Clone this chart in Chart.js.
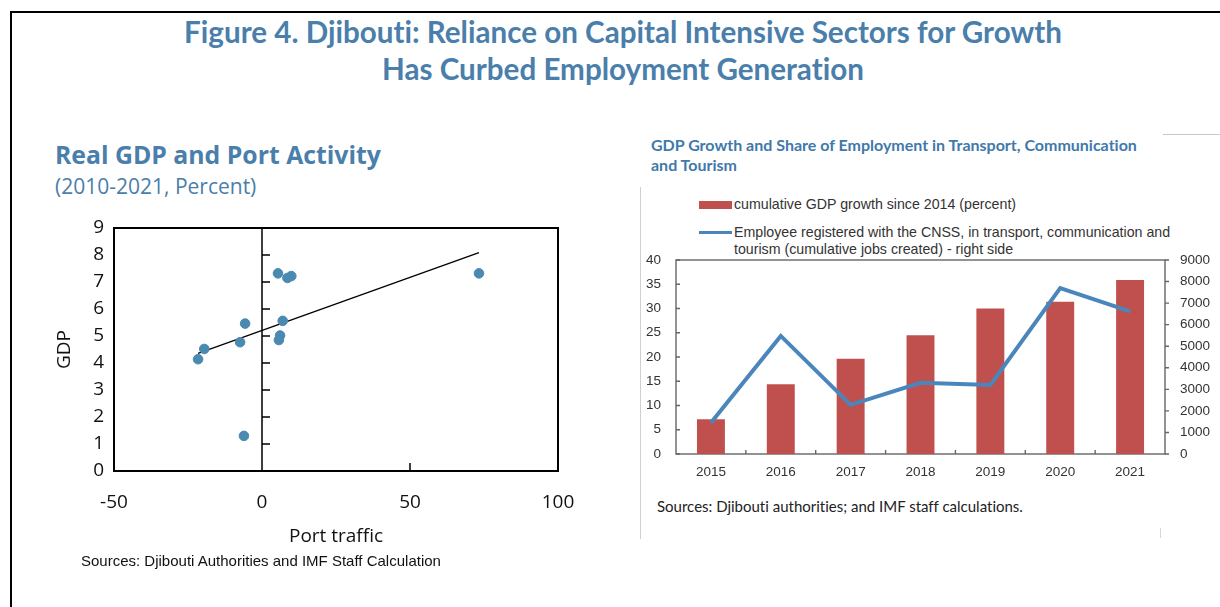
<!DOCTYPE html>
<html>
<head>
<meta charset="utf-8">
<script src="https://cdn.jsdelivr.net/npm/chart.js@4.4.1/dist/chart.umd.min.js"></script>
<style>
    html, body { margin: 0; padding: 0; background: #fff; }
    body { width: 1220px; height: 607px; position: relative; overflow: hidden; font-family: "Open Sans", sans-serif; font-variant-ligatures: none; }
    .frame { position: absolute; left: 10px; top: 11px; width: 1300px; height: 700px; border-left: 2px solid #000; border-top: 2px solid #000; }
    .main-title { position: absolute; left: 0; width: 1246px; top: 13px; text-align: center; font-family: Lato, sans-serif; font-weight: 700; font-size: 29.6px; line-height: 37px; color: #4a7eab; }
    .sub-title { position: absolute; left: 55px; top: 137px; font-weight: 700; font-size: 24.8px; color: #4a7eab; }
    .sub-note { position: absolute; left: 55px; top: 172px; font-size: 21px; color: #4a7eab; }
    .src-left { position: absolute; left: 81px; top: 552px; font-family: "Liberation Sans", Arial, sans-serif; font-size: 15px; color: #111; }
    .r-title { position: absolute; left: 651px; top: 135px; font-family: Lato, sans-serif; font-weight: 700; font-size: 16px; line-height: 20px; color: #4079aa; }
    .r-frame-l { position: absolute; left: 640px; top: 187px; width: 1px; height: 352px; background: #d0d0d0; }
    .r-frame-t { position: absolute; left: 1163px; top: 134px; width: 60px; height: 1px; background: #c8c8c8; }
    .r-frame-b { position: absolute; left: 1160px; top: 528px; width: 1px; height: 10px; background: #d8d8d8; }
    .legend { position: absolute; left: 699px; top: 196px; font-family: "Liberation Sans", Arial, sans-serif; font-size: 14.2px; color: #333; line-height: 17px; }
    .legend .row { position: relative; padding-left: 35px; }
    .legend .sw-bar { position: absolute; left: 0; top: 5px; width: 33px; height: 8px; background: #c0504d; }
    .legend .sw-line { position: absolute; left: 0; top: 7px; width: 33px; height: 3px; background: #4a86bb; }
    .src-right { position: absolute; left: 657px; top: 497px; font-family: Lato, sans-serif; font-size: 15px; color: #222; }
    #scatter-wrap { position: absolute; left: 40px; top: 215px; width: 538px; height: 340px; }
    #combo-wrap { position: absolute; left: 624px; top: 255px; width: 596px; height: 230px; }
</style>
</head>
<body>
<div class="frame"></div>
<div class="main-title">Figure 4. Djibouti: Reliance on Capital Intensive Sectors for Growth<br>Has Curbed Employment Generation</div>

<div class="sub-title">Real GDP and Port Activity</div>
<div class="sub-note">(2010-2021, Percent)</div>
<div id="scatter-wrap"><canvas id="scatter-chart"></canvas></div>
<div class="src-left">Sources: Djibouti Authorities and IMF Staff Calculation</div>

<div class="r-frame-l"></div>
<div class="r-frame-t"></div>
<div class="r-frame-b"></div>
<div class="r-title">GDP Growth and Share of Employment in Transport, Communication<br>and Tourism</div>
<div class="legend">
    <div class="row"><span class="sw-bar"></span>cumulative GDP growth since 2014 (percent)</div>
    <div class="row" style="margin-top:11px"><span class="sw-line"></span>Employee registered with the CNSS, in transport, communication and<br>tourism (cumulative jobs created) - right side</div>
</div>
<div id="combo-wrap"><canvas id="combo-chart"></canvas></div>
<div class="src-right">Sources: Djibouti authorities; and IMF staff calculations.</div>

<script>
// 왼쪽: 항만 물동량 vs 실질 GDP (2010-2021)
const portTraffic = [-21.6, -19.5, -7.4, -5.7, -6.1, 5.4, 8.6, 9.9, 7.0, 6.1, 5.7, 73.3];
const gdpGrowth = [4.14, 4.52, 4.77, 5.46, 1.30, 7.32, 7.15, 7.22, 5.56, 5.02, 4.85, 7.32];
const trendX = [-21.6, 73.3];
const trendY = [4.36, 8.09];
const scatterXTicks = [-50, 0, 50, 100];

// 오른쪽: GDP 누적 성장률 + CNSS 등록 고용
const years = ['2015', '2016', '2017', '2018', '2019', '2020', '2021'];
const cumGdp = [7.15, 14.4, 19.65, 24.5, 30.0, 31.4, 35.9];
const cnssJobs = [1450, 5480, 2280, 3300, 3200, 7700, 6620];

Chart.defaults.animation = false;
Chart.defaults.plugins.legend.display = false;
Chart.defaults.plugins.tooltip.enabled = false;

// 축 라벨이 차트 영역을 밀어내지 않도록
const noPad = s => { s.paddingTop = 0; s.paddingBottom = 0; s.paddingLeft = 0; s.paddingRight = 0; };

// 산점도 박스, 0 기준선, 작은 눈금
const scatterFrame = {
    id: 'scatterFrame',
    beforeDatasetsDraw(chart) {
        const { ctx, chartArea: a, scales: { x, y } } = chart;
        ctx.save();
        ctx.strokeStyle = '#000';
        ctx.lineWidth = 2;
        ctx.strokeRect(a.left, a.top, a.right - a.left, a.bottom - a.top);
        const x0 = x.getPixelForValue(0);
        ctx.lineWidth = 1.5;
        ctx.beginPath();
        ctx.moveTo(x0, a.top);
        ctx.lineTo(x0, a.bottom);
        y.ticks.forEach(t => {
            if (t.value <= y.min || t.value >= y.max) return;
            const py = y.getPixelForValue(t.value);
            ctx.moveTo(x0, py);
            ctx.lineTo(x0 + 8, py);
        });
        x.ticks.forEach(t => {
            if (t.value <= x.min || t.value >= x.max || t.value === 0) return;
            const px = x.getPixelForValue(t.value);
            ctx.moveTo(px, a.bottom);
            ctx.lineTo(px, a.bottom - 8);
        });
        ctx.stroke();
        ctx.restore();
    }
};

new Chart(document.getElementById('scatter-chart'), {
    type: 'scatter',
    data: {
        datasets: [
            {
                label: 'GDP',
                data: portTraffic.map((v, i) => ({ x: v, y: gdpGrowth[i] })),
                backgroundColor: '#4a89b0',
                borderColor: '#4a89b0',
                pointRadius: 4.8,
                order: 0
            },
            {
                type: 'line',
                label: 'trend',
                data: trendX.map((v, i) => ({ x: v, y: trendY[i] })),
                borderColor: '#000',
                borderWidth: 1.3,
                pointRadius: 0,
                fill: false,
                order: 1
            }
        ]
    },
    plugins: [scatterFrame],
    options: {
        responsive: true,
        maintainAspectRatio: false,
        layout: { padding: { top: 13, right: 20, left: 0, bottom: 0 } },
        scales: {
            x: {
                type: 'linear',
                min: -50,
                max: 100,
                afterBuildTicks: s => { s.ticks = scatterXTicks.map(v => ({ value: v })); },
                afterFit: s => { s.height = 84; noPad(s); },
                grid: { display: false, drawTicks: false },
                border: { display: false },
                ticks: { padding: 20, color: '#111', font: { family: 'Open Sans', size: 19 } },
                title: { display: true, text: 'Port traffic', color: '#111', padding: { top: 0, bottom: 7 }, font: { family: 'Open Sans', size: 19 } }
            },
            y: {
                min: 0,
                max: 9,
                afterFit: s => { s.width = 74; noPad(s); },
                grid: { display: false, drawTicks: false },
                border: { display: false },
                ticks: { stepSize: 1, padding: 10, color: '#111', font: { family: 'Open Sans', size: 19 } },
                title: { display: true, text: 'GDP', color: '#111', padding: { top: 13, bottom: 0 }, font: { family: 'Open Sans', size: 19 } }
            }
        }
    }
});

// 막대/선 차트 테두리와 눈금
const comboFrame = {
    id: 'comboFrame',
    beforeDatasetsDraw(chart) {
        const { ctx, chartArea: a, scales: { x, y, y1 } } = chart;
        ctx.save();
        ctx.strokeStyle = '#666';
        ctx.lineWidth = 1.4;
        ctx.strokeRect(a.left, a.top, a.right - a.left, a.bottom - a.top);
        ctx.beginPath();
        y.ticks.forEach(t => {
            const py = y.getPixelForValue(t.value);
            ctx.moveTo(a.left, py);
            ctx.lineTo(a.left + 4, py);
        });
        y1.ticks.forEach(t => {
            const py = y1.getPixelForValue(t.value);
            ctx.moveTo(a.right, py);
            ctx.lineTo(a.right + 4, py);
        });
        const step = (a.right - a.left) / years.length;
        for (let i = 1; i < years.length; i++) {
            const px = x.getPixelForValue(i) - step / 2;
            ctx.moveTo(px, a.bottom);
            ctx.lineTo(px, a.bottom - 4);
        }
        ctx.stroke();
        ctx.restore();
    }
};

const tickFont = { family: 'Liberation Sans', size: 13.5 };

new Chart(document.getElementById('combo-chart'), {
    data: {
        labels: years,
        datasets: [
            {
                type: 'line',
                label: 'Employee registered with the CNSS',
                data: cnssJobs,
                yAxisID: 'y1',
                borderColor: '#4a86bb',
                borderWidth: 4,
                pointRadius: 0,
                tension: 0,
                order: 0
            },
            {
                type: 'bar',
                label: 'cumulative GDP growth since 2014 (percent)',
                data: cumGdp,
                yAxisID: 'y',
                backgroundColor: '#c0504d',
                barPercentage: 0.4,
                categoryPercentage: 1,
                order: 1
            }
        ]
    },
    plugins: [comboFrame],
    options: {
        responsive: true,
        maintainAspectRatio: false,
        layout: { padding: { top: 5, right: 0, left: 0, bottom: 0 } },
        scales: {
            x: {
                afterFit: s => { s.height = 31; noPad(s); },
                grid: { display: false, drawTicks: false },
                border: { display: false },
                ticks: { padding: 10, color: '#333', font: tickFont }
            },
            y: {
                position: 'left',
                min: 0,
                max: 40,
                afterFit: s => { s.width = 52; noPad(s); },
                grid: { display: false, drawTicks: false },
                border: { display: false },
                ticks: { stepSize: 5, padding: 15, color: '#333', font: tickFont }
            },
            y1: {
                position: 'right',
                min: 0,
                max: 9000,
                afterFit: s => { s.width = 55; noPad(s); },
                grid: { display: false, drawTicks: false },
                border: { display: false },
                ticks: { stepSize: 1000, padding: 15, color: '#333', font: tickFont, callback: v => String(v) }
            }
        }
    }
});
</script>
</body>
</html>
